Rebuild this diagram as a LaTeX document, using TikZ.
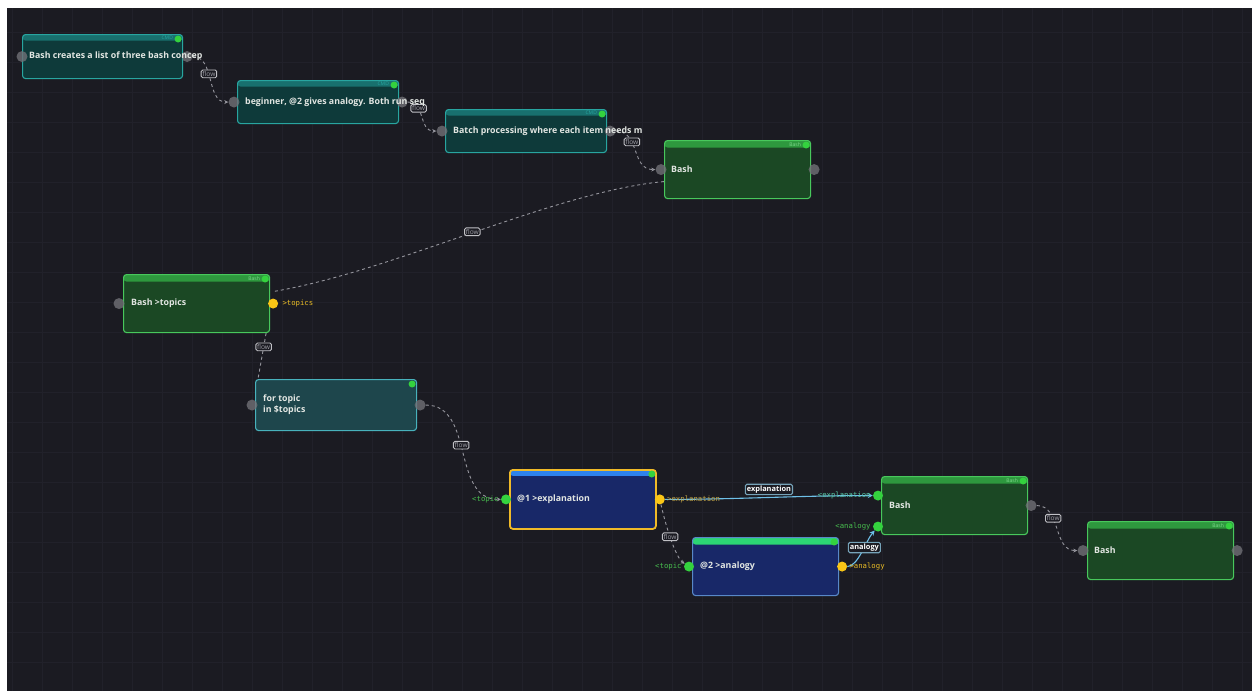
\documentclass[tikz,border=0pt]{standalone}
\usepackage{fontspec}
\setmainfont{Open Sans}
\setmonofont{DejaVu Sans Mono}
\usetikzlibrary{arrows.meta, positioning, calc, backgrounds}
\definecolor{canvas}{RGB}{27,27,34}
\definecolor{gridline}{RGB}{33,33,42}
\definecolor{cmdfill}{RGB}{14,58,58}
\definecolor{cmdedge}{RGB}{40,165,160}
\definecolor{cmdhead}{RGB}{24,112,110}
\definecolor{bashfill}{RGB}{27,72,36}
\definecolor{bashedge}{RGB}{72,200,92}
\definecolor{bashhead}{RGB}{46,152,62}
\definecolor{loopfill}{RGB}{30,70,76}
\definecolor{loopedge}{RGB}{72,178,188}
\definecolor{agentfill}{RGB}{24,40,104}
\definecolor{agentedge}{RGB}{88,136,200}
\definecolor{selborder}{RGB}{240,186,40}
\definecolor{bluehead}{RGB}{46,130,236}
\definecolor{greenhead}{RGB}{44,214,116}
\definecolor{portgray}{RGB}{112,112,118}
\definecolor{portgreen}{RGB}{52,210,62}
\definecolor{portyellow}{RGB}{250,198,22}
\definecolor{flowgray}{RGB}{150,150,158}
\definecolor{wire}{RGB}{110,192,232}
\definecolor{nodetext}{RGB}{226,230,226}
\tikzset{
    headthin/.style={
        path picture={\fill[#1] (path picture bounding box.north west)
            rectangle ([yshift=-6pt]path picture bounding box.north east);}
    },
    headthick/.style={
        path picture={\fill[#1] (path picture bounding box.north west)
            rectangle ([yshift=-7pt]path picture bounding box.north east);}
    },
    box/.style={
        rectangle, rounded corners=3pt, anchor=north west,
        line width=1.1pt, inner sep=0pt
    },
    cmdbox/.style={
        box, draw=cmdedge, fill=cmdfill, headthin=cmdhead,
        minimum width=160pt, minimum height=44pt
    },
    bashbox/.style={
        box, draw=bashedge, fill=bashfill, headthick=bashhead,
        minimum width=146pt, minimum height=58pt
    },
    loopbox/.style={
        box, draw=loopedge, fill=loopfill,
        minimum width=161pt, minimum height=51pt
    },
    agentbox/.style={
        box, draw=agentedge, fill=agentfill,
        minimum width=146pt, minimum height=58pt
    },
    title/.style={
        anchor=west, inner sep=0pt, align=left, text=nodetext,
        font=\bfseries\fontsize{8.8}{11}\selectfont
    },
    tag/.style={anchor=east, inner sep=0pt, font=\fontsize{5}{5}\selectfont},
    dot/.style={circle, fill=portgreen, minimum size=7pt, inner sep=0pt},
    gport/.style={circle, fill=portgray, fill opacity=0.8, minimum size=11pt, inner sep=0pt},
    inport/.style={circle, fill=portgreen, minimum size=10pt, inner sep=0pt},
    outport/.style={circle, fill=portyellow, minimum size=10pt, inner sep=0pt},
    portlabel/.style={inner sep=0pt, font=\ttfamily\fontsize{7.3}{7.3}\selectfont},
    flowline/.style={dashed, line width=0.9pt, draw=flowgray, -{Stealth[length=4pt,width=4pt]}},
    flowtag/.style={
        solid, draw=flowgray!60, fill=canvas, text=flowgray!90!white, rounded corners=1.5pt,
        inner sep=1.3pt, font=\fontsize{6.6}{6.6}\selectfont
    },
    wireline/.style={line width=1.1pt, draw=wire, -{Stealth[length=5pt,width=5pt]}},
    wiretag/.style={
        draw=wire!55!gray, fill=canvas, text=white, rounded corners=1.5pt,
        inner sep=1.5pt, font=\bfseries\fontsize{7.4}{7.4}\selectfont
    }
}
\begin{document}
\begin{tikzpicture}[x=1pt, y=-1pt]
    \useasboundingbox (0,0) rectangle (1252,691);

    % nodes of the editor canvas
    \node[cmdbox] (c1) at (22,34) {};
    \node[cmdbox, minimum width=161pt, minimum height=43pt] (c2) at (237,80) {};
    \node[cmdbox, minimum width=161pt, minimum height=43pt] (c3) at (445,109) {};
    \node[bashbox] (b4) at (664,140) {};
    \node[bashbox] (topics) at (123,274) {};
    \node[loopbox] (loop) at (255,379) {};
    \node[agentbox, draw=selborder, line width=1.8pt, headthin=bluehead, minimum height=59pt] (a1) at (509,469) {};
    \node[agentbox, headthick=greenhead] (a2) at (692,537) {};
    \node[bashbox] (b9) at (881,476) {};
    \node[bashbox] (b10) at (1087,521) {};

    % header tags and status dots
    \foreach \n in {c1,c2,c3} {
        \node[tag, text=cmdedge] at ([xshift=-10pt,yshift=-4pt]\n.north east) {CMD};
    }
    \foreach \n in {b4,topics,b9,b10} {
        \node[tag, text=bashedge!70!white] at ([xshift=-10pt,yshift=-4.5pt]\n.north east) {Bash};
    }
    \foreach \n in {c1,c2,c3,b4,topics,loop,a1,a2,b9,b10} {
        \node[dot] at ([xshift=-5pt,yshift=-5pt]\n.north east) {};
    }

    % ports
    \node[gport] (c1in) at (c1.west) {};
    \node[gport] (c1out) at ([xshift=4pt]c1.east) {};
    \node[gport] (c2in) at ([xshift=-3pt]c2.west) {};
    \node[gport] (c2out) at ([xshift=3pt]c2.east) {};
    \node[gport] (c3in) at ([xshift=-3pt]c3.west) {};
    \node[gport] (c3out) at ([xshift=3pt]c3.east) {};
    \node[gport] (b4in) at ([xshift=-3pt]b4.west) {};
    \node[gport] (b4out) at ([xshift=3pt]b4.east) {};
    \node[gport] (topicsin) at ([xshift=-4pt]topics.west) {};
    \node[outport] (topicsout) at ([xshift=3pt]topics.east) {};
    \node[gport] (loopin) at ([xshift=-3pt]loop.west) {};
    \node[gport] (loopout) at ([xshift=3pt]loop.east) {};
    \node[inport] (a1in) at ([xshift=-3pt]a1.west) {};
    \node[outport] (a1out) at ([xshift=3pt]a1.east) {};
    \node[inport] (a2in) at ([xshift=-3pt]a2.west) {};
    \node[outport] (a2out) at ([xshift=3pt]a2.east) {};
    \node[inport] (b9ex) at ([xshift=-3pt,yshift=10pt]b9.west) {};
    \node[inport] (b9an) at ([xshift=-3pt,yshift=-21pt]b9.west) {};
    \node[gport] (b9out) at ([xshift=3pt]b9.east) {};
    \node[gport] (b10in) at ([xshift=-4pt]b10.west) {};
    \node[gport] (b10out) at ([xshift=3pt]b10.east) {};

    % titles
    \node[title] (c1txt) at ([xshift=7pt]c1.west) {Bash creates a list of three bash concep};
    \node[title] (c2txt) at ([xshift=8pt]c2.west) {beginner, @2 gives analogy. Both run seq};
    \node[title] (c3txt) at ([xshift=8pt]c3.west) {Batch processing where each item needs m};
    \node[title] (b4txt) at ([xshift=7pt]b4.west) {Bash};
    \node[title] (topicstxt) at ([xshift=8pt]topics.west) {Bash >topics};
    \node[title] (looptxt) at ([xshift=8pt]loop.west) {for topic\\in \$topics};
    \node[title] (a1txt) at ([xshift=8pt]a1.west) {@1 >explanation};
    \node[title] (a2txt) at ([xshift=8pt]a2.west) {@2 >analogy};
    \node[title] (b9txt) at ([xshift=8pt]b9.west) {Bash};
    \node[title] (b10txt) at ([xshift=7pt]b10.west) {Bash};

    % port labels
    \node[portlabel, anchor=west, text=portyellow!85!gray] at ([xshift=4pt]topicsout.east) {>topics};
    \node[portlabel, anchor=east, text=portgreen!75!gray] at ([xshift=-2pt]a1in.west) {<topic};
    \node[portlabel, anchor=west, text=portyellow!55!gray] at ([xshift=2pt]a1out.east) {>explanation};
    \node[portlabel, anchor=east, text=portgreen!75!gray] at ([xshift=-2pt]a2in.west) {<topic};
    \node[portlabel, anchor=west, text=portyellow!85!gray] at ([xshift=2pt]a2out.east) {>analogy};
    \node[portlabel, anchor=east, text=wire!60!portgreen] at ([xshift=-2pt]b9ex.west) {<explanation};
    \node[portlabel, anchor=east, text=portgreen!75!gray] at ([xshift=-2pt]b9an.west) {<analogy};

    \begin{scope}[on background layer]
        \fill[white] (0,0) rectangle (1252,691);
        \fill[canvas] (7,8) rectangle (1252,691);
        \foreach \gx in {12,42,...,1242} {
            \draw[gridline, line width=0.6pt] (\gx,8) -- (\gx,691);
        }
        \foreach \gy in {32,62,...,682} {
            \draw[gridline, line width=0.6pt] (7,\gy) -- (1252,\gy);
        }

        % flow connectors
        \draw[flowline] (c1out) .. controls +(28,0) and +(-28,0) .. node[flowtag, pos=0.42] {flow} (c2in);
        \draw[flowline] (c2out) .. controls +(24,0) and +(-24,0) .. node[flowtag, pos=0.3] {flow} (c3in);
        \draw[flowline] (c3out) .. controls +(30,0) and +(-30,0) .. node[flowtag, pos=0.35] {flow} (b4in);
        \draw[dashed, line width=0.9pt, draw=flowgray]
            ([yshift=-12pt]b4.west) .. controls +(-110,10) and +(120,-20) ..
            node[flowtag, pos=0.5, yshift=1pt] {flow} ([xshift=3pt,yshift=12pt]topics.east);
        \draw[dashed, line width=0.9pt, draw=flowgray]
            ([xshift=-4pt]topics.south east) -- node[flowtag, pos=0.3] {flow} ([xshift=3pt]loop.north west);
        \draw[flowline] (loopout) .. controls +(55,0) and +(-55,0) .. node[flowtag, pos=0.45] {flow} (a1in);
        \draw[flowline] (a1out) .. controls +(8,35) and +(-12,-8) .. node[flowtag, pos=0.4] {flow} (a2in);
        \draw[flowline] (b9out) .. controls +(30,0) and +(-30,0) .. node[flowtag, pos=0.35] {flow} (b10in);

        % data wires
        \draw[wireline] (a1out) .. controls +(80,0) and +(-80,0) ..
            node[wiretag, pos=0.5, yshift=8pt] {explanation} (b9ex);
        \draw[wireline] (a2out) .. controls +(16,0) and +(-12,14) ..
            node[wiretag, pos=0.6] {analogy} (b9an);
    \end{scope}
\end{tikzpicture}
\end{document}
